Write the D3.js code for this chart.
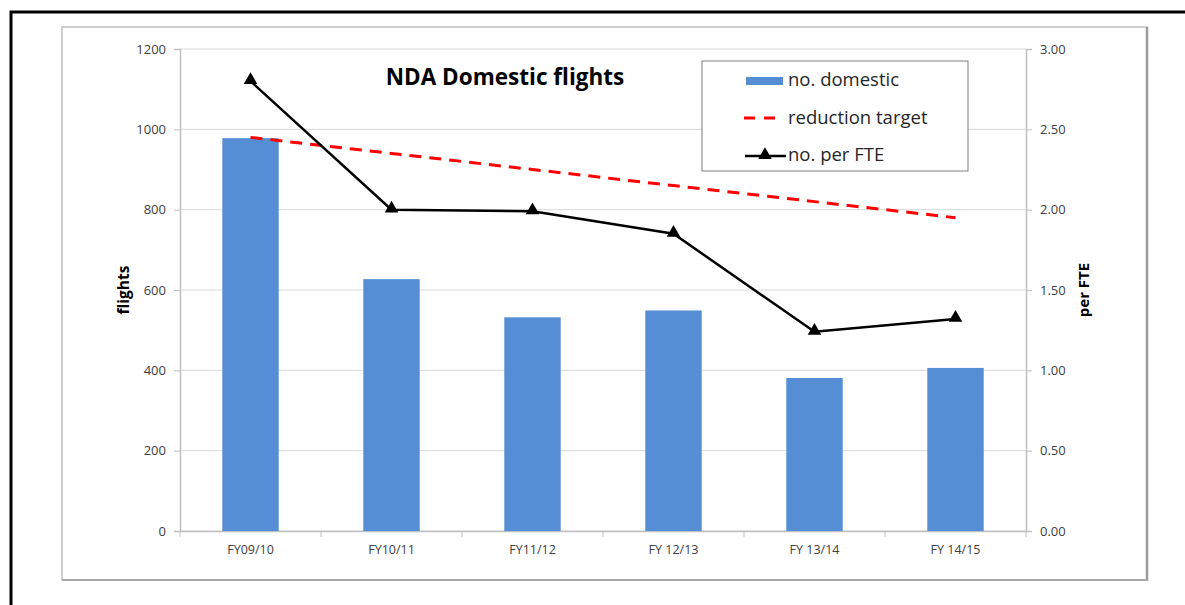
<!DOCTYPE html>
<html>
<head>
<meta charset="utf-8">
<script src="https://cdn.jsdelivr.net/npm/d3@7"></script>
<style>
  body { margin: 0; background: #fff; }
  svg { display: block; font-family: "Open Sans", "Liberation Sans", sans-serif; }
</style>
</head>
<body>
<script>
// données
var categories = ["FY09/10", "FY10/11", "FY11/12", "FY 12/13", "FY 13/14", "FY 14/15"];
var domesticFlights = [978, 627, 532, 549, 381, 406];
var perFTE = [2.80, 2.00, 1.99, 1.85, 1.24, 1.32];
var reductionTarget = [2.45, 2.35, 2.25, 2.15, 2.05, 1.95];
var leftTicks = [0, 200, 400, 600, 800, 1000, 1200];
var rightTicks = [0, 0.5, 1, 1.5, 2, 2.5, 3];

var width = 1185, height = 605;
var plot = { left: 180, right: 1026, top: 49, bottom: 531 };

var svg = d3.select("body").append("svg")
    .attr("width", width)
    .attr("height", height);

// cadre noir extérieur
svg.append("rect")
    .attr("x", 11).attr("y", 12)
    .attr("width", 1200).attr("height", 620)
    .attr("fill", "none").attr("stroke", "#000").attr("stroke-width", 3);

// cadre gris du graphique
svg.append("rect")
    .attr("x", 62).attr("y", 27)
    .attr("width", 1085).attr("height", 553)
    .attr("fill", "#fff").attr("stroke", "#bfbfbf").attr("stroke-width", 1.5);
svg.append("line")
    .attr("x1", 1147).attr("x2", 1147).attr("y1", 27).attr("y2", 581)
    .attr("stroke", "#9a9a9a").attr("stroke-width", 2.5);
svg.append("line")
    .attr("x1", 62).attr("x2", 1148).attr("y1", 580).attr("y2", 580)
    .attr("stroke", "#a6a6a6").attr("stroke-width", 2);

var x = d3.scaleBand()
    .domain(categories)
    .range([plot.left, plot.right])
    .paddingInner(0.6).paddingOuter(0.3);

var xCenter = d => x(d) + x.bandwidth() / 2;

var yLeft = d3.scaleLinear().domain([0, 1200]).range([plot.bottom, plot.top]);
var yRight = d3.scaleLinear().domain([0, 3]).range([plot.bottom, plot.top]);

// grille
svg.append("g").selectAll("line")
    .data(leftTicks)
    .join("line")
    .attr("x1", plot.left).attr("x2", plot.right)
    .attr("y1", d => yLeft(d)).attr("y2", d => yLeft(d))
    .attr("stroke", "#d9d9d9").attr("stroke-width", 1);

// axe gauche
var axisLeft = svg.append("g")
    .attr("transform", `translate(${plot.left},0)`)
    .call(d3.axisLeft(yLeft).tickValues(leftTicks).tickSize(6).tickPadding(8)
        .tickFormat(d3.format("d")));
// axe droit
var axisRight = svg.append("g")
    .attr("transform", `translate(${plot.right},0)`)
    .call(d3.axisRight(yRight).tickValues(rightTicks).tickSize(6).tickPadding(8)
        .tickFormat(d3.format(".2f")));
// axe des catégories
var axisBottom = svg.append("g")
    .attr("transform", `translate(0,${plot.bottom})`)
    .call(d3.axisBottom(x).tickSize(0).tickPadding(14));

[axisLeft, axisRight, axisBottom].forEach(function (a) {
    a.select(".domain").attr("stroke", "#bfbfbf").attr("stroke-width", 1.5);
    a.selectAll(".tick line").attr("stroke", "#bfbfbf");
    a.selectAll("text").attr("fill", "#404040").style("font-size", "13px")
        .style("font-family", "'Open Sans', sans-serif");
});
axisBottom.selectAll("text").style("font-size", "12.5px");

// petites graduations entre catégories
var step = x.step();
svg.append("g").selectAll("line")
    .data(d3.range(categories.length + 1))
    .join("line")
    .attr("x1", i => plot.left + i * step).attr("x2", i => plot.left + i * step)
    .attr("y1", plot.bottom).attr("y2", plot.bottom + 6)
    .attr("stroke", "#bfbfbf");

// barres
svg.append("g").selectAll("rect")
    .data(domesticFlights)
    .join("rect")
    .attr("x", (d, i) => x(categories[i]))
    .attr("y", d => yLeft(d))
    .attr("width", x.bandwidth())
    .attr("height", d => yLeft(0) - yLeft(d))
    .attr("fill", "#558ed5");

// objectif de réduction (pointillés rouges)
var line = d3.line()
    .x((d, i) => xCenter(categories[i]))
    .y(d => yRight(d));

svg.append("path")
    .datum(reductionTarget)
    .attr("d", line)
    .attr("fill", "none")
    .attr("stroke", "#ff0000")
    .attr("stroke-width", 3)
    .attr("stroke-dasharray", "12,8");

// nombre par ETP
svg.append("path")
    .datum(perFTE)
    .attr("d", line)
    .attr("fill", "none")
    .attr("stroke", "#000")
    .attr("stroke-width", 2.5);

var triangle = d3.symbol().type(d3.symbolTriangle).size(80);
svg.append("g").selectAll("path")
    .data(perFTE)
    .join("path")
    .attr("d", triangle)
    .attr("transform", (d, i) => `translate(${xCenter(categories[i])},${yRight(d) - 1})`)
    .attr("fill", "#000");

// titre
svg.append("text")
    .attr("x", 505).attr("y", 85)
    .attr("text-anchor", "middle")
    .style("font-size", "22.5px").style("font-weight", "bold")
    .attr("fill", "#000")
    .text("NDA Domestic flights");

// titres des axes
svg.append("text")
    .attr("transform", "translate(129,290) rotate(-90)")
    .attr("text-anchor", "middle")
    .style("font-size", "15.5px").style("font-weight", "bold")
    .text("flights");
svg.append("text")
    .attr("transform", "translate(1089,290) rotate(-90)")
    .attr("text-anchor", "middle")
    .style("font-size", "15px").style("font-weight", "bold")
    .text("per FTE");

// légende
var legend = svg.append("g");
legend.append("rect")
    .attr("x", 702).attr("y", 61)
    .attr("width", 266).attr("height", 110)
    .attr("fill", "#fff").attr("stroke", "#7f7f7f").attr("stroke-width", 1);

legend.append("rect")
    .attr("x", 746).attr("y", 77).attr("width", 37).attr("height", 8)
    .attr("fill", "#558ed5");
legend.append("line")
    .attr("x1", 744).attr("x2", 778).attr("y1", 118).attr("y2", 118)
    .attr("stroke", "#ff0000").attr("stroke-width", 3).attr("stroke-dasharray", "11,9");
legend.append("line")
    .attr("x1", 745).attr("x2", 786).attr("y1", 156).attr("y2", 156)
    .attr("stroke", "#000").attr("stroke-width", 2.5);
legend.append("path")
    .attr("d", triangle)
    .attr("transform", "translate(765,155)")
    .attr("fill", "#000");

var legendLabels = ["no. domestic", "reduction target", "no. per FTE"];
legend.selectAll("text.lab")
    .data(legendLabels)
    .join("text")
    .attr("class", "lab")
    .attr("x", 788)
    .attr("y", (d, i) => 86 + i * 37.5)
    .style("font-size", "18.5px")
    .attr("fill", "#262626")
    .text(d => d);
</script>
</body>
</html>
